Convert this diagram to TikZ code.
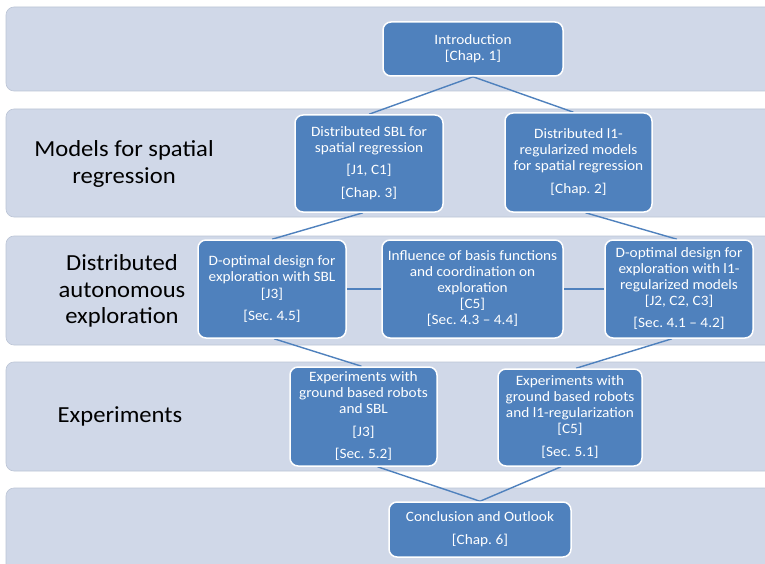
\documentclass[tikz,border=0pt]{standalone}
\usepackage{fontspec}
\setmainfont{Carlito}[FakeStretch=1.07]
\definecolor{bandfill}{HTML}{D0D8E8}
\definecolor{bandline}{HTML}{BCC5D6}
\definecolor{boxfill}{HTML}{4F81BD}
\pgfdeclarelayer{bands}
\pgfdeclarelayer{links}
\pgfsetlayers{bands,links,main}
\begin{document}
\begin{tikzpicture}[x=1pt,y=-1pt,
  box/.style={draw=white, line width=1.5pt, fill=boxfill, rounded corners=8pt,
    text=white, align=center, inner sep=0pt,
    font=\fontsize{14.3}{16}\selectfont},
  link/.style={draw=boxfill, line width=1.4pt},
  band/.style={fill=bandfill, draw=bandline, line width=0.6pt, rounded corners=8pt},
  bandlabel/.style={align=center, text=black, font=\fontsize{23}{26.5}\selectfont}]
\useasboundingbox (0,0) rectangle (765,564);
\clip (0,0) rectangle (765,564);

% horizontal bands, open on the right
\begin{pgfonlayer}{bands}
  \fill[white] (0,0) rectangle (765,564);
  \foreach \t/\b in {7/91, 109/217, 236/345, 362/471, 488/580}
    \draw[band] (790,\t) -- (6,\t) -- (6,\b) -- (790,\b);
\end{pgfonlayer}

% band titles
\node[bandlabel] (lblmodels) at (124,164) {Models for spatial\\regression};
\node[bandlabel] (lblexplore) at (122,291) {Distributed\\autonomous\\exploration};
\node[bandlabel] (lblexp) at (120,416) {Experiments};

% chapter boxes
\node[box, minimum width=180pt, minimum height=54pt] (intro) at (473,49)
  {Introduction\\{}[Chap.~1]};
\node[box, minimum width=148pt, minimum height=97pt] (sbl) at (369,163.5)
  {Distributed SBL for\\spatial regression\\[6pt]{}[J1, C1]\\[7pt]{}[Chap.~3]};
\node[box, minimum width=147pt, minimum height=99pt] (lone) at (578.5,162.5)
  {Distributed l1-\\regularized models\\for spatial regression\\[7pt]{}[Chap.~2]};
\node[box, minimum width=148pt, minimum height=98pt] (dsbl) at (272,289)
  {D-optimal design for\\exploration with SBL\\[1pt]{}[J3]\\[6pt]{}[Sec.~4.5]};
\node[box, minimum width=181pt, minimum height=98pt] (infl) at (472.5,289)
  {Influence of basis functions\\and coordination on\\exploration\\{}[C5]\\{}[Sec.~4.3 – 4.4]};
\node[box, minimum width=148pt, minimum height=98pt] (dlone) at (679,289)
  {D-optimal design for\\exploration with l1-\\regularized models\\{}[J2, C2, C3]\\[6pt]{}[Sec.~4.1 – 4.2]};
\node[box, minimum width=147pt, minimum height=99pt] (esbl) at (363.5,416.5)
  {Experiments with\\ground based robots\\and SBL\\[7pt]{}[J3]\\[6pt]{}[Sec.~5.2]};
\node[box, minimum width=144pt, minimum height=97pt] (elone) at (570,417.5)
  {Experiments with\\ground based robots\\and l1-regularization\\{}[C5]\\[7pt]{}[Sec.~5.1]};
\node[box, minimum width=182pt, minimum height=55pt] (concl) at (480,529.5)
  {Conclusion and Outlook\\[7pt]{}[Chap.~6]};

% connectors
\begin{pgfonlayer}{links}
  \draw[link] (intro.south) -- ([xshift=-5pt]lone.north);
  \draw[link] (intro.south) -- (sbl.north);
  \draw[link] ([xshift=-6pt]sbl.south) -- (dsbl.north);
  \draw[link] ([xshift=7pt]lone.south) -- ([xshift=-2pt]dlone.north);
  \draw[link] (dsbl.east) -- (infl.west);
  \draw[link] (infl.east) -- (dlone.west);
  \draw[link] ([xshift=2pt]dsbl.south) -- ([xshift=-2pt]esbl.north);
  \draw[link] ([xshift=-7pt]dlone.south) -- ([xshift=6pt]elone.north);
  \draw[link] ([xshift=14pt]esbl.south) -- (concl.north);
  \draw[link] ([xshift=-9pt]elone.south) -- (concl.north);
\end{pgfonlayer}
\end{tikzpicture}
\end{document}
